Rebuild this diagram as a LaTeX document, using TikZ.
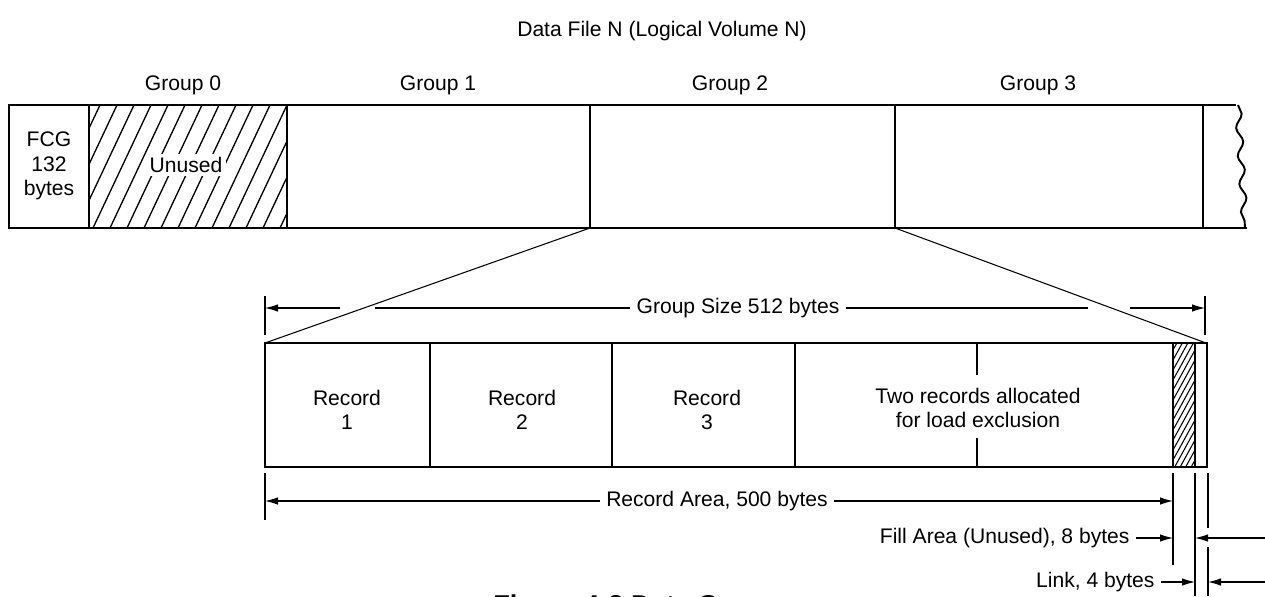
\documentclass[tikz,border=0pt]{standalone}
\usepackage{fontspec}
\setmainfont{Liberation Sans}
\usetikzlibrary{arrows.meta,decorations.pathmorphing}

\tikzset{
    box/.style={line width=1.1pt},
    thin/.style={line width=0.6pt},
    dimarrow/.style={thin,-{Latex[length=2.6mm,width=1.5mm]}},
    lbl/.style={font=\fontsize{12}{14}\selectfont, inner sep=1pt},
    gaplbl/.style={lbl, inner xsep=3.5pt},
}

\begin{document}
\begin{tikzpicture}[x=0.02cm,y=-0.02cm]
    \fill[white] (0,0) rectangle (1265,596);
    \useasboundingbox (0,0) rectangle (1265,596);

    \node[lbl] (title) at (662,31) {Data File N (Logical Volume N)};
    \node[lbl] (grp0) at (183,85) {Group 0};
    \node[lbl] (grp1) at (438,85) {Group 1};
    \node[lbl] (grp2) at (730,85) {Group 2};
    \node[lbl] (grp3) at (1038,85) {Group 3};

    % data file bar
    \begin{scope}
        \clip (89,105) rectangle (287,228);
        \foreach \x in {-60,-43,...,300}
            \draw[line width=0.75pt] (\x,228) -- ++(58,-123);
    \end{scope}
    \draw[box] (1236,105) -- (9,105) -- (9,228) -- (1247,228);
    \draw[box, decorate, decoration={snake, amplitude=1.8pt, segment length=16pt}]
        (1238,105) -- (1245,228);
    \foreach \x in {89,287,590,895,1203}
        \draw[box] (\x,105) -- (\x,228);
    \node[lbl, align=center] (fcg) at (49,166) {FCG\\132\\bytes};
    \node[lbl, fill=white, inner sep=2pt] (unused) at (186,165) {Unused};

    % group 2 expanded
    \coordinate (g2l) at (590,228);
    \coordinate (g2r) at (895,228);
    \coordinate (recl) at (265,343);
    \coordinate (recr) at (1206,343);
    \draw[thin] (g2l) -- (recl);
    \draw[thin] (g2r) -- (recr);

    \begin{scope}
        \clip (1173,343) rectangle (1195,467);
        \foreach \y in {340,350,...,520}
            \draw[thin] (1173,\y) -- ++(22,-40);
    \end{scope}
    \draw[box] (265,343) rectangle (1207,467);
    \foreach \x in {430,612,795,1173,1195}
        \draw[box] (\x,343) -- (\x,467);
    \draw[box] (977,343) -- (977,375);
    \draw[box] (977,438) -- (977,467);

    \node[lbl, align=center] (rec1) at (347,410) {Record\\1};
    \node[lbl, align=center] (rec2) at (522,410) {Record\\2};
    \node[lbl, align=center] (rec3) at (707,410) {Record\\3};
    \node[lbl, align=center] (rec45) at (978,408) {Two records allocated\\for load exclusion};

    % group size
    \draw[thin] (265,296) -- (265,335);
    \draw[thin] (1205,296) -- (1205,335);
    \coordinate (gsl) at (265,308);
    \coordinate (gsr) at (1205,308);
    \coordinate (gsla) at (340,308);
    \coordinate (gslb) at (375,308);
    \coordinate (gsra) at (1088,308);
    \coordinate (gsrb) at (1130,308);
    \node[gaplbl] (gsize) at (738,308) {Group Size 512 bytes};
    \draw[dimarrow] (gsla) -- (gsl);
    \draw[thin] (gslb) -- (gsize.west);
    \draw[thin] (gsize.east) -- (gsra);
    \draw[dimarrow] (gsrb) -- (gsr);

    % record area, fill area, link
    \draw[thin] (265,473) -- (265,520);
    \draw[thin] (1173,473) -- (1173,565);
    \draw[thin] (1195,473) -- (1195,596);
    \draw[thin] (1208,473) -- (1208,528);
    \draw[thin] (1208,547) -- (1208,596);
    \coordinate (ral) at (265,501);
    \coordinate (rar) at (1173,501);
    \node[gaplbl] (rarea) at (717,501) {Record Area, 500 bytes};
    \draw[dimarrow] (rarea.west) -- (ral);
    \draw[dimarrow] (rarea.east) -- (rar);

    \coordinate (fal) at (1173,538);
    \coordinate (far) at (1195,538);
    \coordinate (faout) at (1265,538);
    \node[gaplbl, anchor=east] (farea) at (1136,538) {Fill Area (Unused), 8 bytes};
    \draw[dimarrow] (farea.east) -- (fal);
    \draw[dimarrow] (faout) -- (far);

    \coordinate (lkl) at (1195,582);
    \coordinate (lkr) at (1208,582);
    \coordinate (lkout) at (1265,582);
    \node[gaplbl, anchor=east] (link) at (1161,582) {Link, 4 bytes};
    \draw[dimarrow] (link.east) -- (lkl);
    \draw[dimarrow] (lkout) -- (lkr);

    \node[font=\bfseries\fontsize{15.5}{18}\selectfont, anchor=base west, inner sep=0pt] (caption) at (493,614) {Figure 4-3 Data Group};
\end{tikzpicture}
\end{document}
